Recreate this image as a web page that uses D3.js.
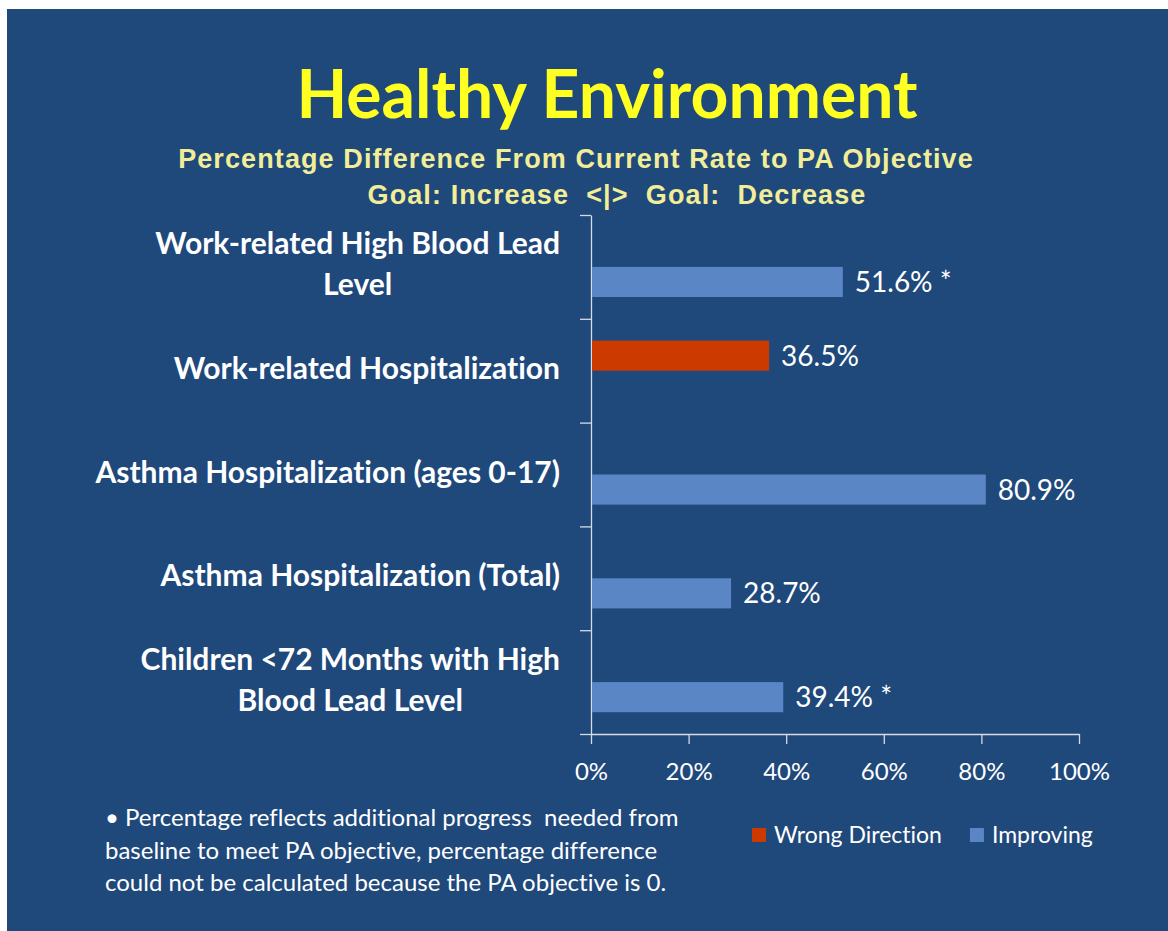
<!DOCTYPE html>
<html>
<head>
<meta charset="utf-8">
<script src="https://cdn.jsdelivr.net/npm/d3@7"></script>
<style>
  body { margin: 0; background: #ffffff; }
  svg { display: block; }
  text { font-variant-ligatures: none; }
</style>
</head>
<body>
<div id="chart"></div>
<script>
// chart data
var categories = [
  "Work-related High Blood Lead\nLevel",
  "Work-related Hospitalization",
  "Asthma Hospitalization (ages 0-17)",
  "Asthma Hospitalization (Total)",
  "Children <72 Months with High\nBlood Lead Level"
];
var values = [51.6, 36.5, 80.9, 28.7, 39.4];
var directions = ["Improving", "Wrong Direction", "Improving", "Improving", "Improving"];
var starred = [true, false, false, false, true];
var seriesNames = ["Wrong Direction", "Improving"];
var xTicks = [0, 20, 40, 60, 80, 100];

var title = "Healthy Environment";
var subtitle = ["Percentage Difference From Current Rate to PA Objective",
                "Goal: Increase  <|>  Goal:  Decrease"];
var footnote = ["\u2022 Percentage reflects additional progress  needed from",
                "baseline to meet PA objective, percentage difference",
                "could not be calculated because the PA objective is 0."];

var W = 1168, H = 931;
var colors = {"Wrong Direction": "#cc3a00", "Improving": "#5a86c6"};
var axisColor = "#d6dbe4";

var svg = d3.select("#chart").append("svg")
  .attr("width", W).attr("height", H);

// slide background
svg.append("rect")
  .attr("x", 7).attr("y", 9)
  .attr("width", W - 7).attr("height", H - 9)
  .attr("fill", "#1f487b");

// titles
svg.append("text")
  .attr("x", 607).attr("y", 118)
  .attr("text-anchor", "middle")
  .style("font-family", "Lato, sans-serif")
  .style("font-weight", "bold")
  .style("font-size", "66px")
  .attr("fill", "#ffff22")
  .text(title);

svg.selectAll("text.sub").data(subtitle).enter().append("text")
  .attr("class", "sub")
  .attr("x", function(d, i) { return i == 0 ? 576 : 617; })
  .attr("y", function(d, i) { return 168 + i * 36; })
  .attr("text-anchor", "middle")
  .style("font-family", "'Liberation Sans', Arial, sans-serif")
  .style("font-weight", "bold")
  .style("font-size", "27px")
  .style("letter-spacing", "1.1px")
  .style("white-space", "pre")
  .attr("fill", "#f2ee98")
  .text(function(d) { return d; });

// scales
var x = d3.scaleLinear().domain([0, 100]).range([591, 1079]);
var y = d3.scaleBand().domain(categories).range([215, 734])
  .paddingInner(0.42).paddingOuter(0.21);
var y1 = d3.scaleBand().domain(seriesNames).range([0, y.bandwidth()]);

// y axis: line with ticks on category boundaries
var yEdges = d3.scaleLinear().domain([0, categories.length]).range([215, 734]);
svg.append("g")
  .attr("transform", "translate(" + x(0) + ",0)")
  .call(d3.axisLeft(yEdges).ticks(categories.length).tickFormat("").tickSize(11).tickSizeOuter(0))
  .call(function(g) {
    g.selectAll("line, path").attr("stroke", axisColor).attr("stroke-width", 1.3);
  });

// x axis
var xAxis = svg.append("g")
  .attr("transform", "translate(0," + yEdges(categories.length) + ")")
  .call(d3.axisBottom(x).tickValues(xTicks).tickFormat(function(d) { return d + "%"; })
    .tickSize(10).tickSizeOuter(0).tickPadding(19));
xAxis.selectAll("line, path").attr("stroke", axisColor).attr("stroke-width", 1.3);
xAxis.selectAll("text")
  .attr("fill", "#ffffff")
  .style("font-family", "Lato, sans-serif")
  .style("font-size", "24px");

// bars
var rows = categories.map(function(c, i) {
  return {cat: c, value: values[i], dir: directions[i], star: starred[i]};
});

svg.selectAll("rect.bar").data(rows).enter().append("rect")
  .attr("class", "bar")
  .attr("x", x(0) + 1)
  .attr("y", function(d) { return y(d.cat) + y1(d.dir); })
  .attr("width", function(d) { return x(d.value) - x(0) - 1; })
  .attr("height", y1.bandwidth())
  .attr("fill", function(d) { return colors[d.dir]; });

// value labels
svg.selectAll("text.val").data(rows).enter().append("text")
  .attr("class", "val")
  .attr("x", function(d) { return x(d.value) + 12; })
  .attr("y", function(d) { return y(d.cat) + y1(d.dir) + y1.bandwidth() / 2 + 10; })
  .attr("fill", "#ffffff")
  .style("font-family", "Lato, sans-serif")
  .style("font-size", "28px")
  .text(function(d) { return d.value.toFixed(1) + "%" + (d.star ? " *" : ""); });

// category labels, centred lines in a right-aligned block
var labelRight = 560, lineH = 41;
categories.forEach(function(c) {
  var lines = c.split("\n");
  var mid = y(c) + y.bandwidth() / 2;
  var g = svg.append("g");
  var t = g.selectAll("text").data(lines).enter().append("text")
    .attr("y", function(d, i) { return mid + (i - (lines.length - 1) / 2) * lineH + 8; })
    .attr("fill", "#ffffff")
    .style("font-family", "Lato, sans-serif")
    .style("font-weight", "bold")
    .style("font-size", "30px")
    .text(function(d) { return d; });
  var maxW = d3.max(t.nodes(), function(n) { return n.getComputedTextLength(); });
  t.attr("text-anchor", "middle").attr("x", labelRight - maxW / 2);
});

// legend
var lx = 752;
seriesNames.forEach(function(s) {
  svg.append("rect")
    .attr("x", lx).attr("y", 828)
    .attr("width", 14).attr("height", 14)
    .attr("fill", colors[s]);
  var t = svg.append("text")
    .attr("x", lx + 22).attr("y", 843)
    .attr("fill", "#ffffff")
    .style("font-family", "Lato, sans-serif")
    .style("font-size", "23px")
    .text(s);
  lx += 22 + t.node().getComputedTextLength() + 28;
});

// footnote
svg.selectAll("text.note").data(footnote).enter().append("text")
  .attr("class", "note")
  .attr("x", 105)
  .attr("y", function(d, i) { return 826 + i * 32.5; })
  .attr("fill", "#ffffff")
  .style("font-family", "Lato, sans-serif")
  .style("font-size", "24px")
  .style("white-space", "pre")
  .text(function(d) { return d; });
</script>
</body>
</html>
